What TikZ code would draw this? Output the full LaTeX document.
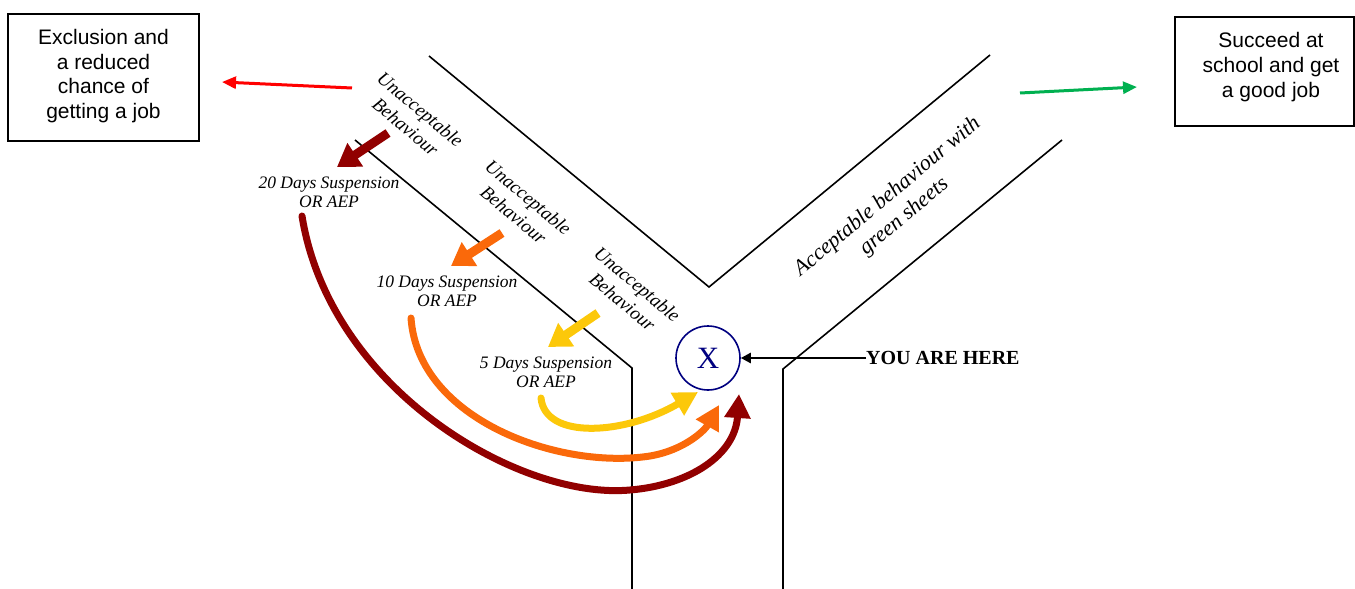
\documentclass[tikz,border=0pt]{standalone}
\usepackage{fontspec}
\setmainfont{Liberation Serif}
\newfontfamily\arialf{Liberation Sans}
\usetikzlibrary{arrows.meta}
\definecolor{dred}{RGB}{145,0,0}
\definecolor{orng}{RGB}{250,105,10}
\definecolor{yllw}{RGB}{252,200,10}
\definecolor{grn}{RGB}{0,176,80}
\definecolor{nvy}{RGB}{0,0,128}
\definecolor{rd}{RGB}{255,0,0}
\begin{document}
\begin{tikzpicture}[x=1pt,y=-1pt,
  road/.style={line width=1.6pt, line join=miter},
  boxnode/.style={draw, line width=1.5pt, inner sep=0pt},
  boxtxt/.style={font=\arialf\fontsize{21}{24.7}\selectfont, align=center, inner sep=0pt},
  unacc/.style={font=\itshape\fontsize{19}{23}\selectfont, align=center, rotate=-40, inner sep=0pt},
  susp/.style={font=\itshape\fontsize{17.5}{19}\selectfont, align=center, inner sep=0pt},
  accept/.style={font=\itshape\fontsize{22}{26}\selectfont, align=center, rotate=40, inner sep=0pt},
  smallarrow/.style={line width=9pt, -{Triangle[length=22pt,width=27pt]}},
  bigarrow/.style={line width=7pt, line cap=round, -{Triangle[length=24pt,width=25pt]}},
  thinarrow/.style={line width=3pt, -{Triangle[length=14pt,width=12pt]}}
]
\useasboundingbox (0,0) rectangle (1355,589);

% roads
\draw[road] (429,56) -- (709,287) -- (990,55);
\draw[road] (355,140) -- (632,368) -- (632,590);
\draw[road] (1062,140) -- (783,369) -- (783,590);

% boxes
\node[boxnode, minimum width=191pt, minimum height=127pt] (excl) at (103.5,77.5) {};
\node[boxtxt] (excltxt) at (103.5,76) {Exclusion and\\a reduced\\chance of\\getting a job};
\node[boxnode, minimum width=179pt, minimum height=109pt] (succ) at (1264.5,71.5) {};
\node[boxtxt] (succtxt) at (1271,67) {Succeed at\\school and get\\a good job};

% side arrows
\coordinate (ra1) at (352,88);
\coordinate (ra2) at (222,82);
\draw[thinarrow, rd] (ra1) -- (ra2);
\coordinate (ga1) at (1020,93);
\coordinate (ga2) at (1137,87);
\draw[thinarrow, grn] (ga1) -- (ga2);

% unacceptable labels
\node[unacc] (u1) at (413,118) {Unacceptable\\Behaviour};
\node[unacc] (u2) at (521,206) {Unacceptable\\Behaviour};
\node[unacc] (u3) at (630,293) {Unacceptable\\Behaviour};

% suspension labels
\node[susp] (s20) at (329,192) {20 Days Suspension\\OR AEP};
\node[susp] (s10) at (447,291) {10 Days Suspension\\OR AEP};
\node[susp] (s5) at (546,372) {5 Days Suspension\\OR AEP};

% acceptable label
\node[accept] (acc) at (896,207) {Acceptable behaviour with\\green sheets};

% you are here
\node[circle, draw=nvy, line width=1.6pt, minimum size=64pt, inner sep=0pt, text=nvy, font=\fontsize{31}{31}\selectfont] (you) at (708,358) {X};
\node[font=\bfseries\fontsize{20}{22}\selectfont, anchor=west, inner sep=0pt] (here) at (866,358) {YOU ARE HERE};
\draw[line width=2.5pt, -{Triangle[length=10pt,width=10pt]}] (here.west) -- (you.east);

% small arrows
\coordinate (a20s) at (388,133); \coordinate (a20e) at (337,167);
\coordinate (a10s) at (502,233); \coordinate (a10e) at (451,266);
\coordinate (a5s) at (598,313); \coordinate (a5e) at (548,347);
\draw[smallarrow, dred] (a20s) -- (a20e);
\draw[smallarrow, orng] (a10s) -- (a10e);
\draw[smallarrow, yllw] (a5s) -- (a5e);

% big curved arrows
\coordinate (b20s) at (302,216); \coordinate (b20e) at (739,394);
\coordinate (b10s) at (411,318); \coordinate (b10e) at (719,405);
\coordinate (b5s) at (541,398); \coordinate (b5e) at (698,392);
\draw[bigarrow, dred] (b20s) .. controls (330,390) and (520,500) .. (630,490) .. controls (690,485) and (735,455) .. (b20e);
\draw[bigarrow, orng] (b10s) .. controls (418,420) and (560,470) .. (650,456) .. controls (685,450) and (705,430) .. (b10e);
\draw[bigarrow, yllw] (b5s) .. controls (545,440) and (625,435) .. (b5e);
\end{tikzpicture}
\end{document}
